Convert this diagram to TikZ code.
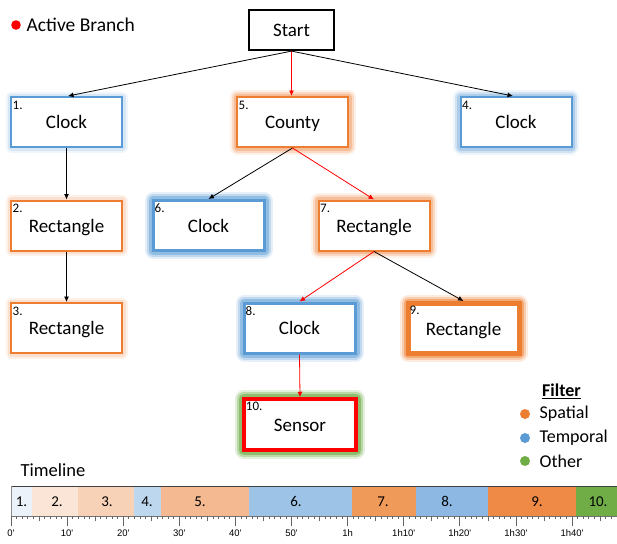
\documentclass[tikz,border=0pt]{standalone}
\usepackage{fontspec}
\setmainfont{Carlito}
\newfontfamily\tickfont{Liberation Sans}[Ligatures=TeXOff]
\usetikzlibrary{arrows.meta}
\definecolor{borange}{HTML}{ED7D31}
\definecolor{bblue}{HTML}{5B9BD5}
\definecolor{bgreen}{HTML}{70AD47}
\definecolor{sA}{HTML}{EBF2FA}
\definecolor{sB}{HTML}{FBE5D6}
\definecolor{sC}{HTML}{F8D2B6}
\definecolor{sD}{HTML}{BDD7EE}
\definecolor{sE}{HTML}{F4B990}
\definecolor{sF}{HTML}{9DC3E6}
\definecolor{sG}{HTML}{F09A5A}
\definecolor{sH}{HTML}{8DB8E3}
\definecolor{sI}{HTML}{EE8A45}
\definecolor{sJ}{HTML}{70AD47}
\tikzset{
  box/.style={draw, fill=white, line width=2pt, minimum width=111pt, minimum height=50pt,
    inner sep=0pt, font=\fontsize{19}{22}\selectfont, text height=13pt, text depth=0pt},
  glowweak/.style={preaction={draw=#1, line width=11pt, draw opacity=0.10, line join=round},
    preaction={draw=#1, line width=7pt, draw opacity=0.15, line join=round}},
  glowmid/.style={preaction={draw=#1, line width=15pt, draw opacity=0.10, line join=round},
    preaction={draw=#1, line width=11pt, draw opacity=0.2, line join=round},
    preaction={draw=#1, line width=7pt, draw opacity=0.3, line join=round}},
  glowstrong/.style={preaction={draw=#1, line width=17pt, draw opacity=0.15, line join=round},
    preaction={draw=#1, line width=13pt, draw opacity=0.28, line join=round},
    preaction={draw=#1, line width=9pt, draw opacity=0.45, line join=round}},
  glowgreen/.style={preaction={draw=#1, line width=18pt, draw opacity=0.2, line join=round},
    preaction={draw=#1, line width=14pt, draw opacity=0.35, line join=round},
    preaction={draw=#1, line width=10pt, draw opacity=0.6, line join=round}},
  num/.style={anchor=north west, inner sep=0pt, font=\fontsize{13}{15}\selectfont},
  arr/.style={-{Latex[length=5.5pt,width=5pt]}, line width=0.8pt},
  act/.style={arr, draw=red, -{Latex[length=5.5pt,width=5pt,fill=red]}},
  seglbl/.style={inner sep=0pt, font=\fontsize{15}{17}\selectfont},
  legtxt/.style={anchor=west, inner sep=0pt, font=\fontsize{18}{21}\selectfont},
  ticklbl/.style={inner sep=0pt, font=\tickfont\fontsize{9.5}{11}\selectfont},
}
\begin{document}
\begin{tikzpicture}[x=1pt,y=-1pt]
\useasboundingbox (0,0) rectangle (617,543);

% legend: active branch
\fill[red] (16,25) circle (4.8);
\node[legtxt, font=\fontsize{19.5}{22}\selectfont] (actleg) at (26.5,25) {Active Branch};

% nodes
\node[box, line width=2.2pt, minimum width=85pt, minimum height=40pt] (start) at (291.5,30) {Start};
\node[box, draw=bblue, glowweak=bblue] (c1) at (66.5,122) {Clock};
\node[box, draw=borange, glowmid=borange] (c5) at (292.5,122) {County};
\node[box, draw=bblue, glowmid=bblue] (c4) at (516,122) {Clock};
\node[box, draw=borange, glowweak=borange] (c2) at (66.5,225.5) {Rectangle};
\node[box, draw=bblue, line width=3pt, glowstrong=bblue] (c6) at (208.5,225.5) {Clock};
\node[box, draw=borange, glowmid=borange] (c7) at (374,225.5) {Rectangle};
\node[box, draw=borange, glowweak=borange] (c3) at (66.5,328) {Rectangle};
\node[box, draw=bblue, line width=3pt, glowstrong=bblue] (c8) at (299.5,328) {Clock};
\node[box, draw=borange, line width=5pt, glowstrong=borange] (c9) at (463.5,328.5) {Rectangle};
\node[box, draw=red, line width=3.5pt, minimum width=112pt, minimum height=51pt, glowgreen=bgreen] (c10) at (300,424.5) {Sensor};

% number labels
\node[num] (n1) at ([shift={(2.5,4.5)}]c1.north west) {1.};
\node[num] (n5) at ([shift={(2.5,4.5)}]c5.north west) {5.};
\node[num] (n4) at ([shift={(2.5,4.5)}]c4.north west) {4.};
\node[num] (n2) at ([shift={(2.5,4.5)}]c2.north west) {2.};
\node[num] (n6) at ([shift={(3,4.5)}]c6.north west) {6.};
\node[num] (n7) at ([shift={(2.5,4.5)}]c7.north west) {7.};
\node[num] (n3) at ([shift={(2.5,4.5)}]c3.north west) {3.};
\node[num] (n8) at ([shift={(3,4.5)}]c8.north west) {8.};
\node[num] (n9) at ([shift={(4,4.5)}]c9.north west) {9.};
\node[num] (n10) at ([shift={(3.5,4.5)}]c10.north west) {10.};

% connectors
\draw[arr] (start.south) -- ([xshift=1.5pt]c1.north);
\draw[act] (start.south) -- (c5.north -| start.south);
\draw[arr] (start.south) -- ([xshift=-3pt]c4.north);
\draw[arr] (c1.south) -- (c2.north);
\draw[arr] (c2.south) -- (c3.north);
\draw[arr] (c5.south) -- (c6.north);
\draw[act] (c5.south) -- (c7.north);
\draw[act] (c7.south) -- (c8.north);
\draw[arr] (c7.south) -- (c9.north);
\draw[act] (c8.south) -- (c10.north);

% filter legend
\node[inner sep=0pt, font=\fontsize{18}{21}\selectfont\bfseries] (filt) at (561.5,391.5) {\underline{Filter}};
\fill[borange] (525,414) circle (5);
\fill[bblue] (525,438) circle (5);
\fill[bgreen] (525,461) circle (5);
\node[legtxt] (fsp) at (539.5,414) {Spatial};
\node[legtxt] (fte) at (539.5,438) {Temporal};
\node[legtxt] (fot) at (539.5,461) {Other};

% timeline
\node[inner sep=0pt, font=\fontsize{18.5}{21}\selectfont] (tl) at (53,470) {Timeline};
\foreach \a/\b/\c in {11/32/sA, 32/78/sB, 78/134/sC, 134/161/sD, 161/249/sE, 249/352/sF, 352/416/sG, 416/488/sH, 488/576/sI, 576/617/sJ}{
  \fill[\c] (\a,486) rectangle (\b,515.5);
  \draw[\c!85!black, line width=0.5pt] (\b,486) -- (\b,515.5);
}
\draw[black!75, line width=1pt] (11,486) -- (617,486);
\draw[black!45, line width=0.8pt] (11,486) -- (11,515.5);
\draw[black!55, line width=0.8pt] (11,516) -- (617,516);
\foreach \t in {0,...,108}{
  \pgfmathsetmacro\len{ifthenelse(mod(\t,10)==0,10,ifthenelse(mod(\t,5)==0,5,3))}
  \draw[black!60, line width=0.7pt] ({11+5.61*\t},516) -- ++(0,\len);
}
\foreach \t/\l in {0/0',10/10',20/20',30/30',40/40',50/50',60/1h,70/1h10',80/1h20',90/1h30',100/1h40'}{
  \node[ticklbl] (tk\t) at ({11+5.61*\t},533) {\l};
}
\foreach \x/\l/\n in {21.5/1./sa, 57/2./sb, 107/3./sc, 147/4./sd, 200/5./se, 296/6./sf, 383/7./sg, 447/8./sh, 537/9./si, 598/10./sj}{
  \node[seglbl] (\n) at (\x,501.5) {\l};
}
\end{tikzpicture}
\end{document}
